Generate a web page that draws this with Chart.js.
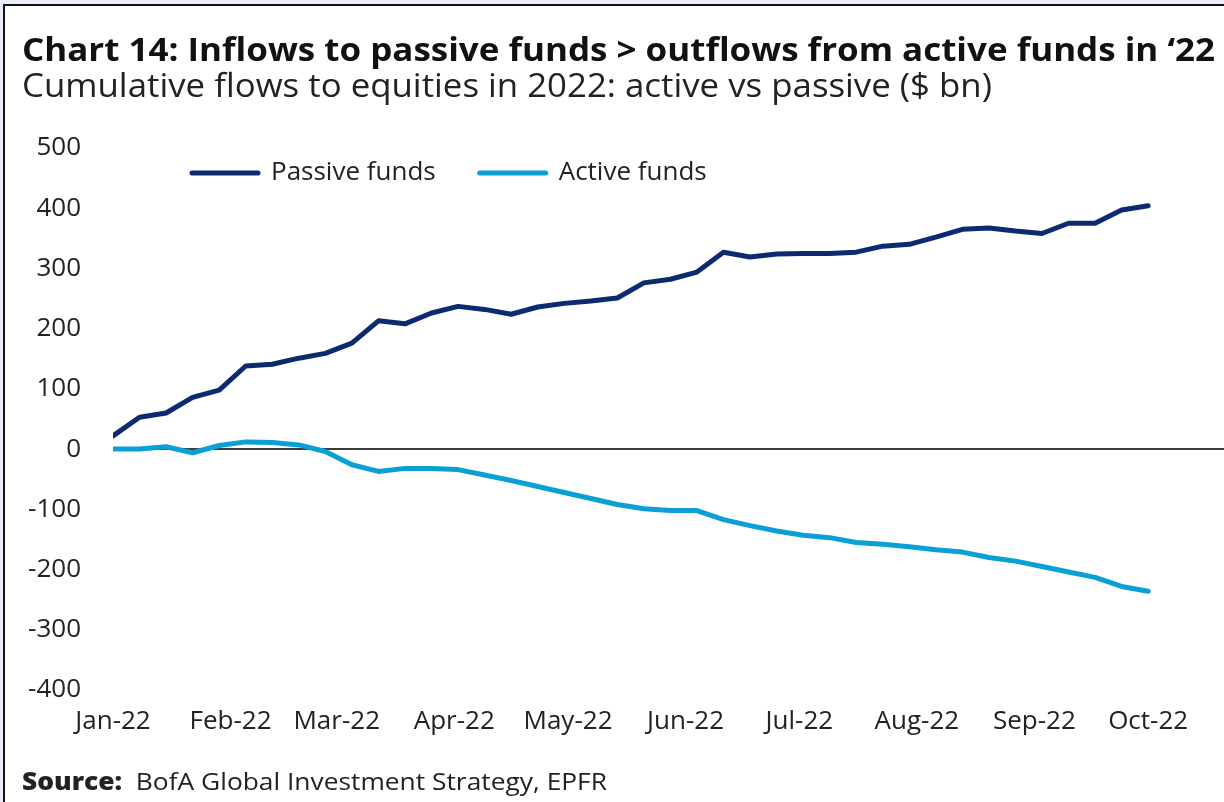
<!DOCTYPE html>
<html>
<head>
<meta charset="utf-8">
<script src="https://cdn.jsdelivr.net/npm/chart.js@4.4.1/dist/chart.umd.min.js"></script>
<style>
  html, body { margin: 0; padding: 0; }
  body {
    width: 1224px; height: 802px; overflow: hidden; position: relative;
    background: #eaeef8; font-family: "Open Sans", sans-serif; color: #1d1d1d;
  }
  #frame {
    position: absolute; left: 3px; top: 4px; width: 1240px; height: 820px;
    background: #fff; border-left: 2px solid #111; border-top: 2px solid #111;
  }
  #chartBox { position: absolute; left: 0; top: 0; width: 1224px; height: 802px; }
  .txt { position: absolute; white-space: nowrap; line-height: 1; transform-origin: 0 0; }
  #title { left: 22px; top: 32px; font-size: 33px; font-weight: 700; color: #111; }
  #subtitle { left: 22px; top: 68px; font-size: 33px; font-weight: 400; color: #222; }
  #source { left: 22px; top: 769px; font-size: 24px; color: #222; }
  #source b { font-weight: 800; }
</style>
</head>
<body>
<div id="frame"></div>
<div id="chartBox"><canvas id="flowChart"></canvas></div>
<div class="txt" id="title">Chart 14: Inflows to passive funds &gt; outflows from active funds in ‘22</div>
<div class="txt" id="subtitle">Cumulative flows to equities in 2022: active vs passive ($ bn)</div>
<div class="txt" id="source"><b>Source:</b>&nbsp; BofA Global Investment Strategy, EPFR</div>

<script>
// weekly observations (EPFR week ending Wednesday)
const weekDates = [
    "2022-01-05", "2022-01-12", "2022-01-19", "2022-01-26",
    "2022-02-02", "2022-02-09", "2022-02-16", "2022-02-23",
    "2022-03-02", "2022-03-09", "2022-03-16", "2022-03-23", "2022-03-30",
    "2022-04-06", "2022-04-13", "2022-04-20", "2022-04-27",
    "2022-05-04", "2022-05-11", "2022-05-18", "2022-05-25",
    "2022-06-01", "2022-06-08", "2022-06-15", "2022-06-22", "2022-06-29",
    "2022-07-06", "2022-07-13", "2022-07-20", "2022-07-27",
    "2022-08-03", "2022-08-10", "2022-08-17", "2022-08-24", "2022-08-31",
    "2022-09-07", "2022-09-14", "2022-09-21", "2022-09-28",
    "2022-10-05"
];

const passiveFunds = [
    22, 53, 60, 86, 98, 138, 141, 151, 159, 176,
    213, 208, 226, 237, 232, 224, 236, 242, 246, 251,
    276, 282, 294, 327, 319, 324, 325, 325, 327, 337,
    340, 352, 365, 367, 362, 358, 375, 375, 397, 404
];

const activeFunds = [
    0, 0, 4, -6, 6, 12, 11, 7, -4, -26,
    -37, -32, -32, -34, -43, -52, -62, -72, -82, -92,
    -99, -102, -102, -117, -127, -136, -143, -147, -155, -158,
    -162, -167, -171, -180, -186, -195, -204, -213, -228, -236
];

// month ticks of the date axis
const tickDates = [
    "2022-01-05", "2022-02-05", "2022-03-05", "2022-04-05", "2022-05-05",
    "2022-06-05", "2022-07-05", "2022-08-05", "2022-09-05", "2022-10-05"
];
const tickLabels = ["Jan-22", "Feb-22", "Mar-22", "Apr-22", "May-22", "Jun-22", "Jul-22", "Aug-22", "Sep-22", "Oct-22"];

const yMin = -400;
const yMax = 500;
const yStep = 100;
const xMaxDays = 293;

const navy = "#0b2a6f";
const cyan = "#0aa0d6";

const legendFont = 26;
const legendPad = 44;

function dayOffset(d) {
    return (Date.parse(d) - Date.parse(weekDates[0])) / 86400000;
}

function fitWidth(id, target) {
    const el = document.getElementById(id);
    const w = el.getBoundingClientRect().width;
    el.style.transform = "scaleX(" + (target / w) + ")";
}

// the legend keeps its slot above the plot, but is drawn inside the plot near the top-left
const legendInset = {
    id: "legendInset",
    afterLayout(chart) {
        const lg = chart.legend;
        lg.left = chart.chartArea.left + 79 - legendPad;
        lg.top = chart.chartArea.top + 25 - legendFont / 2 - legendPad;
        // legend clips to its own box, so move the box edges too
        lg.right = lg.left + lg.width;
        lg.bottom = lg.top + lg.height + legendPad;
    }
};

function drawChart() {
    fitWidth("title", 1193);
    fitWidth("subtitle", 970);
    fitWidth("source", 585);

    const ctx = document.getElementById("flowChart").getContext("2d");
    new Chart(ctx, {
        type: "line",
        data: {
            datasets: [
                {
                    label: "Passive funds",
                    data: weekDates.map((d, i) => ({ x: dayOffset(d), y: passiveFunds[i] })),
                    borderColor: navy,
                    backgroundColor: navy,
                    borderWidth: 5,
                    pointRadius: 0,
                    tension: 0,
                    borderJoinStyle: "round",
                    borderCapStyle: "round",
                },
                {
                    label: "Active funds",
                    data: weekDates.map((d, i) => ({ x: dayOffset(d), y: activeFunds[i] })),
                    borderColor: cyan,
                    backgroundColor: cyan,
                    borderWidth: 5,
                    pointRadius: 0,
                    tension: 0,
                    borderJoinStyle: "round",
                    borderCapStyle: "round",
                },
            ],
        },
        options: {
            responsive: true,
            maintainAspectRatio: false,
            animation: false,
            layout: {
                // legend box is itemHeight + padding + 10 tall, so the plot still starts at 148
                padding: { top: 148 - (legendFont + legendPad + 10), left: 0, right: 0, bottom: 52 }
            },
            scales: {
                x: {
                    type: "linear",
                    min: 0,
                    max: xMaxDays,
                    afterBuildTicks: (scale) => {
                        scale.ticks = tickDates.map(d => ({ value: dayOffset(d) }));
                    },
                    afterFit: (scale) => { scale.height = 60; },
                    grid: { display: false, drawTicks: false },
                    border: { display: false },
                    ticks: {
                        autoSkip: false,
                        maxRotation: 0,
                        padding: 16,
                        color: "#222",
                        font: { family: "Open Sans", size: 26 },
                        callback: (value, index) => tickLabels[index],
                    },
                },
                y: {
                    min: yMin,
                    max: yMax,
                    afterFit: (scale) => { scale.width = 113; },
                    grid: {
                        drawTicks: false,
                        lineWidth: 2,
                        color: (c) => (c.tick && c.tick.value === 0 ? "#3c3c3c" : "rgba(0,0,0,0)"),
                    },
                    border: { display: false },
                    ticks: {
                        stepSize: yStep,
                        padding: 32,
                        color: "#222",
                        font: { family: "Open Sans", size: 26 },
                    },
                },
            },
            plugins: {
                legend: {
                    position: "top",
                    align: "start",
                    labels: {
                        boxWidth: 66,
                        boxHeight: 0,
                        padding: legendPad,
                        color: "#222",
                        font: { family: "Open Sans", size: legendFont },
                    },
                },
                tooltip: { enabled: false },
            },
        },
        plugins: [legendInset],
    });
}

Promise.all([
    document.fonts.load('26px "Open Sans"'),
    document.fonts.load('700 33px "Open Sans"'),
    document.fonts.load('800 24px "Open Sans"'),
]).then(drawChart, drawChart);
</script>
</body>
</html>
